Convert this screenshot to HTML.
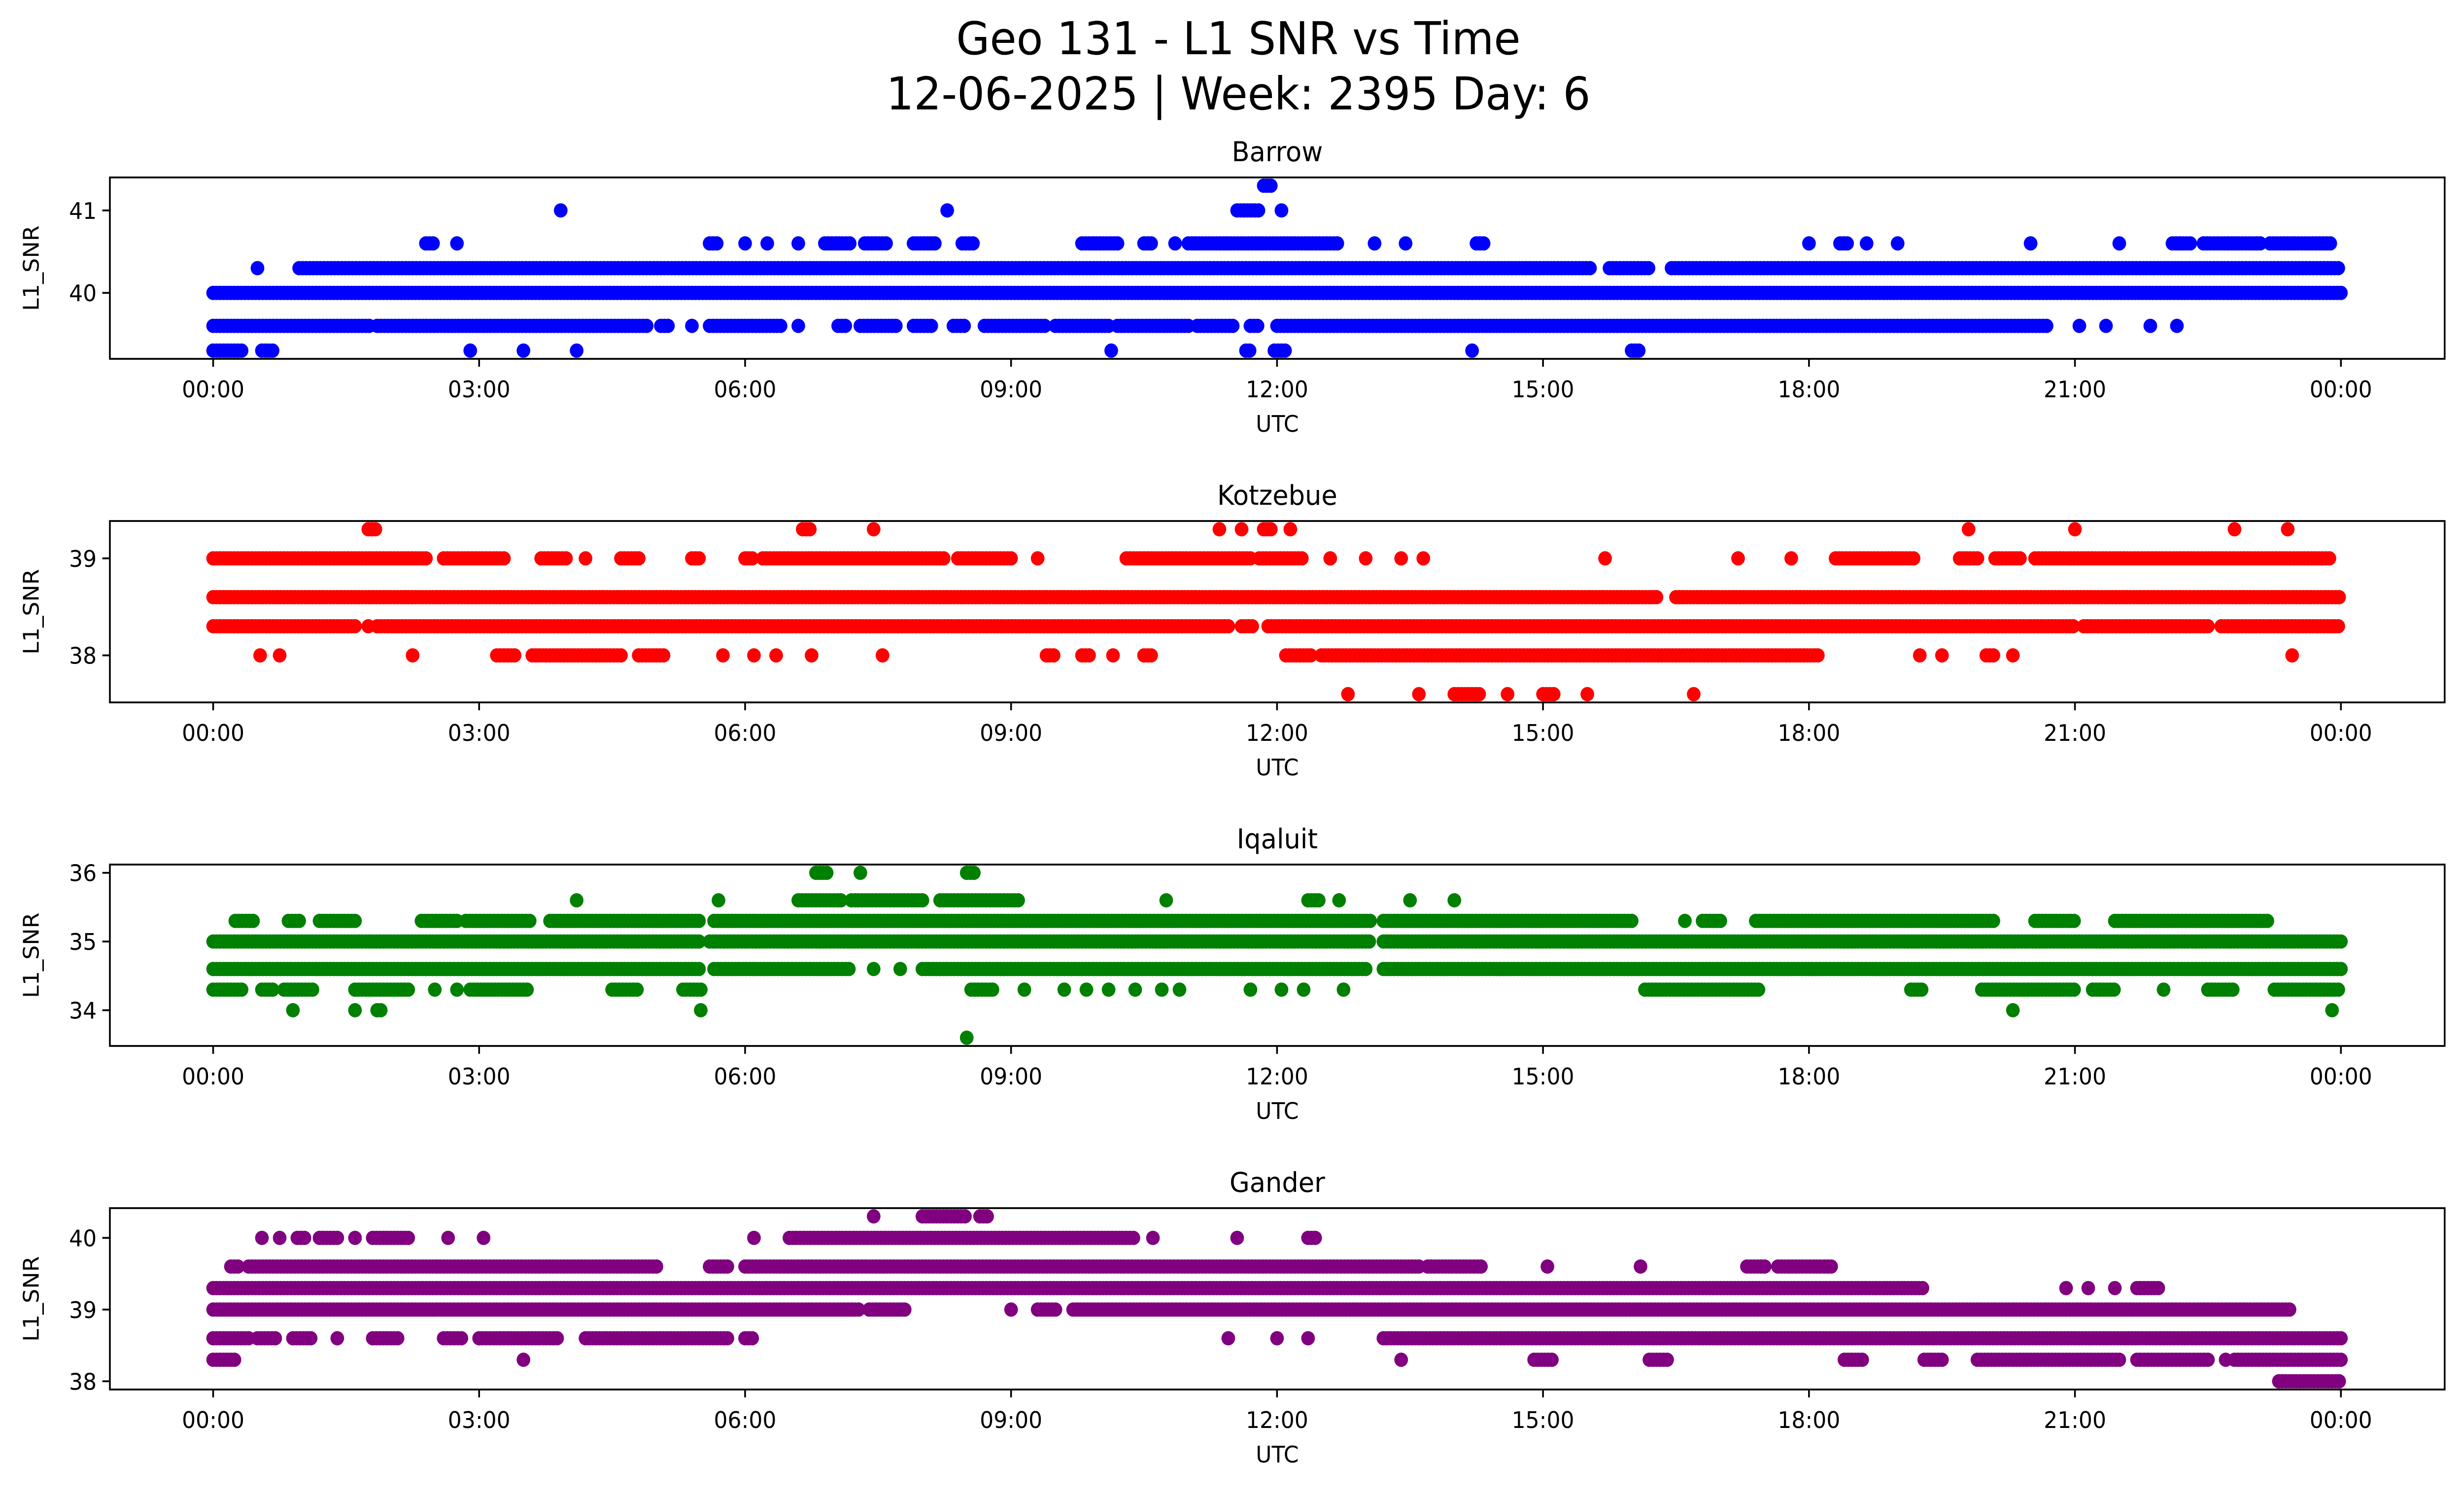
<!DOCTYPE html>
<html><head><meta charset="utf-8"><style>
html,body{margin:0;padding:0;background:#fff;overflow:hidden;width:100%;height:100%}
svg{display:block;width:100vw;height:100vh}
text{font-family:"DejaVu Sans","Liberation Sans",sans-serif;fill:#000}
</style></head><body>
<svg id="fig" viewBox="0 0 5225 3033" preserveAspectRatio="none" xmlns="http://www.w3.org/2000/svg">
<rect x="0" y="0" width="5225" height="3033" fill="#fff"/>
<text x="2626" y="110" font-size="92" text-anchor="middle">Geo 131 - L1 SNR vs Time</text>
<text x="2626" y="222" font-size="92" text-anchor="middle">12-06-2025 | Week: 2395 Day: 6</text>
<g id="plots"></g>
</svg>
<script>
// time ticks (hours) and labels
const tickHours = [0,3,6,9,12,15,18,21,24];
const tickLabels = ["00:00","03:00","06:00","09:00","12:00","15:00","18:00","21:00","00:00"];
// station names
const stations = ["Barrow","Kotzebue","Iqaluit","Gander"];
const colors = ["#0000ff","#ff0000","#008000","#800080"];
// SNR levels per station
const barrowLevels = [39.3,39.6,40.0,40.3,40.6,41.0,41.3];
const kotzebueLevels = [37.6,38.0,38.3,38.6,39.0,39.3];
const iqaluitLevels = [33.6,34.0,34.3,34.6,35.0,35.3,35.6,36.0];
const ganderLevels = [38.0,38.3,38.6,39.0,39.3,39.6,40.0,40.3];
// y tick values per station
const barrowTicks = [40,41];
const kotzebueTicks = [38,39];
const iqaluitTicks = [34,35,36];
const ganderTicks = [38,39,40];
// observation runs per level: [startHour,endHour]
const barrowRuns = [
 [[0,0.35],[0.55,0.7],[2.9,2.9],[3.5,3.5],[4.1,4.1],[10.13,10.13],[11.65,11.7],[11.97,12.1],[14.2,14.2],[16.0,16.08]],
 [[0,1.77],[1.85,4.9],[5.05,5.15],[5.4,5.4],[5.6,6.4],[6.6,6.6],[7.05,7.15],[7.3,7.7],[7.9,8.1],[8.35,8.5],[8.7,9.4],[9.5,10.1],[10.2,11.0],[11.1,11.5],[11.7,11.8],[12.0,20.7],[21.05,21.05],[21.35,21.35],[21.85,21.85],[22.15,22.15]],
 [[0,24]],
 [[0.5,0.5],[0.97,15.55],[15.75,16.2],[16.45,24]],
 [[2.4,2.5],[2.75,2.75],[5.6,5.7],[6.0,6.0],[6.25,6.25],[6.6,6.6],[6.9,7.2],[7.35,7.6],[7.9,8.15],[8.45,8.6],[9.8,10.2],[10.5,10.6],[10.85,10.85],[11.0,12.7],[13.1,13.1],[13.45,13.45],[14.25,14.35],[18.0,18.0],[18.35,18.45],[18.65,18.65],[19.0,19.0],[20.5,20.5],[21.5,21.5],[22.1,22.3],[22.45,23.1],[23.2,23.9]],
 [[3.92,3.92],[8.28,8.28],[11.55,11.8],[12.05,12.05]],
 [[11.85,11.95]]
];
const kotzebueRuns = [
 [[12.8,12.8],[13.6,13.6],[14.0,14.3],[14.6,14.6],[15.0,15.15],[15.5,15.5],[16.7,16.7]],
 [[0.53,0.53],[0.75,0.75],[2.25,2.25],[3.2,3.4],[3.6,4.6],[4.8,5.1],[5.75,5.75],[6.1,6.1],[6.35,6.35],[6.75,6.75],[7.55,7.55],[9.4,9.5],[9.8,9.9],[10.15,10.15],[10.5,10.6],[12.1,12.4],[12.5,18.1],[19.25,19.25],[19.5,19.5],[20.0,20.1],[20.3,20.3],[23.45,23.45]],
 [[0,1.6],[1.75,1.75],[1.85,11.45],[11.6,11.75],[11.9,21.0],[21.1,22.5],[22.65,24]],
 [[0,16.3],[16.5,24]],
 [[0,2.4],[2.6,3.3],[3.7,4.0],[4.2,4.2],[4.6,4.8],[5.4,5.5],[6.0,6.1],[6.2,8.25],[8.4,9.0],[9.3,9.3],[10.3,11.7],[11.8,12.3],[12.6,12.6],[13.0,13.0],[13.4,13.4],[13.65,13.65],[15.7,15.7],[17.2,17.2],[17.8,17.8],[18.3,19.2],[19.7,19.9],[20.1,20.4],[20.55,23.9]],
 [[1.75,1.85],[6.65,6.75],[7.45,7.45],[11.35,11.35],[11.6,11.6],[11.85,11.95],[12.15,12.15],[19.8,19.8],[21.0,21.0],[22.8,22.8],[23.4,23.4]]
];
const iqaluitRuns = [
 [[8.5,8.5]],
 [[0.9,0.9],[1.6,1.6],[1.85,1.9],[5.5,5.5],[20.3,20.3],[23.9,23.9]],
 [[0,0.35],[0.55,0.7],[0.8,1.15],[1.6,2.2],[2.5,2.5],[2.75,2.75],[2.9,3.55],[4.5,4.8],[5.3,5.5],[8.55,8.8],[9.15,9.15],[9.6,9.6],[9.85,9.85],[10.1,10.1],[10.4,10.4],[10.7,10.7],[10.9,10.9],[11.7,11.7],[12.05,12.05],[12.3,12.3],[12.75,12.75],[16.15,17.45],[19.15,19.3],[19.95,21.0],[21.2,21.45],[22.0,22.0],[22.5,22.8],[23.25,24]],
 [[0,5.5],[5.65,7.2],[7.45,7.45],[7.75,7.75],[8.0,13.0],[13.2,24]],
 [[0,5.5],[5.6,13.05],[13.2,24]],
 [[0.25,0.45],[0.85,1.0],[1.2,1.6],[2.35,2.75],[2.85,3.6],[3.8,5.5],[5.65,13.05],[13.2,16.0],[16.6,16.6],[16.8,17.0],[17.4,20.1],[20.55,21.0],[21.45,23.2]],
 [[4.1,4.1],[5.7,5.7],[6.6,7.1],[7.2,8.0],[8.2,9.1],[10.75,10.75],[12.35,12.5],[12.7,12.7],[13.5,13.5],[14.0,14.0]],
 [[6.8,6.95],[7.3,7.3],[8.5,8.6]]
];
const ganderRuns = [
 [[23.3,24]],
 [[0,0.25],[3.5,3.5],[13.4,13.4],[14.9,15.1],[16.2,16.4],[18.4,18.6],[19.3,19.5],[19.9,21.5],[21.7,22.5],[22.7,22.7],[22.8,24]],
 [[0,0.4],[0.5,0.7],[0.9,1.1],[1.4,1.4],[1.8,2.1],[2.6,2.8],[3.0,3.9],[4.2,5.8],[6.0,6.1],[11.45,11.45],[12.0,12.0],[12.35,12.35],[13.2,24]],
 [[0,7.3],[7.4,7.8],[9.0,9.0],[9.3,9.5],[9.7,23.45]],
 [[0,19.3],[20.9,20.9],[21.15,21.15],[21.45,21.45],[21.7,21.95]],
 [[0.2,0.3],[0.4,5.0],[5.6,5.8],[6.0,13.6],[13.7,14.3],[15.05,15.05],[16.1,16.1],[17.3,17.5],[17.65,18.25]],
 [[0.55,0.55],[0.75,0.75],[0.95,1.05],[1.2,1.4],[1.6,1.6],[1.8,2.2],[2.65,2.65],[3.05,3.05],[6.1,6.1],[6.5,10.4],[10.6,10.6],[11.55,11.55],[12.35,12.45]],
 [[7.45,7.45],[8.0,8.5],[8.65,8.75]]
];
const allLevels = [barrowLevels,kotzebueLevels,iqaluitLevels,ganderLevels];
const allTicks = [barrowTicks,kotzebueTicks,iqaluitTicks,ganderTicks];
const allRuns = [barrowRuns,kotzebueRuns,iqaluitRuns,ganderRuns];

const NS="http://www.w3.org/2000/svg";
const AX_L=233, AX_R=5184, AX_H=368;
const panelTops=[360,1057,1754,2451];
const X0=452, X24=4964;
function xScale(h){return X0+(X24-X0)*h/24;}
const root=document.getElementById('plots');
function mk(tag,attrs,parent){const e=document.createElementNS(NS,tag);for(const k in attrs)e.setAttribute(k,attrs[k]);parent.appendChild(e);return e;}

stations.forEach((name,p)=>{
  const top=panelTops[p], bot=top+AX_H;
  const lv=allLevels[p];
  const mn=Math.min(...lv), mx=Math.max(...lv), m=(mx-mn)*0.05;
  const lo=mn-m, hi=mx+m;
  const yScale=v=>bot-(v-lo)/(hi-lo)*AX_H;
  const g=mk('g',{},root);
  
  
  const t=mk('text',{x:(AX_L+AX_R)/2,y:top-33,'font-size':55,'text-anchor':'middle'},g);
  t.textContent=name;
  
  
  const pts=mk('g',{fill:colors[p]},g);
  
  
  const clip='c'+p;
  const cp=mk('clipPath',{id:clip},g);
  mk('rect',{x:AX_L,y:top,width:AX_R-AX_L,height:AX_H},cp);
  pts.setAttribute('clip-path','url(#'+clip+')');
  allRuns[p].forEach((runs,li)=>{
    const y=yScale(lv[li]);
    runs.forEach(r=>{
      for(let h=r[0];h<=r[1]+1e-9;h+=0.04){
        const c=mk('circle',{cx:xScale(h).toFixed(1),cy:y.toFixed(1),r:14.5},pts);
        
        
      }
    });
  });
  const frame=mk('rect',{x:AX_L,y:top,width:AX_R-AX_L,height:AX_H,fill:'none',stroke:'#000','stroke-width':3.7},g);
  
  
  tickHours.forEach((h,i)=>{
    const x=xScale(h);
    mk('line',{x1:x,x2:x,y1:bot,y2:bot+16,stroke:'#000','stroke-width':3.7},g);
    const tl=mk('text',{x:x,y:bot+78,'font-size':46,'text-anchor':'middle'},g);
    tl.textContent=tickLabels[i];
    
    
  });
  allTicks[p].forEach(v=>{
    const y=yScale(v);
    mk('line',{x1:AX_L-16,x2:AX_L,y1:y,y2:y,stroke:'#000','stroke-width':3.7},g);
    const tl=mk('text',{x:AX_L-28,y:y+17,'font-size':46,'text-anchor':'end'},g);
    tl.textContent=String(v);
    
    
  });
  const xl=mk('text',{x:(AX_L+AX_R)/2,y:bot+148,'font-size':46,'text-anchor':'middle'},g);
  xl.textContent='UTC';
  
  
  const cy=top+AX_H/2;
  const yl=mk('text',{x:82,y:cy,'font-size':46,'text-anchor':'middle',transform:'rotate(-90 82 '+cy+')'},g);
  yl.textContent='L1_SNR';
  
  
});
</script>
</body></html>
